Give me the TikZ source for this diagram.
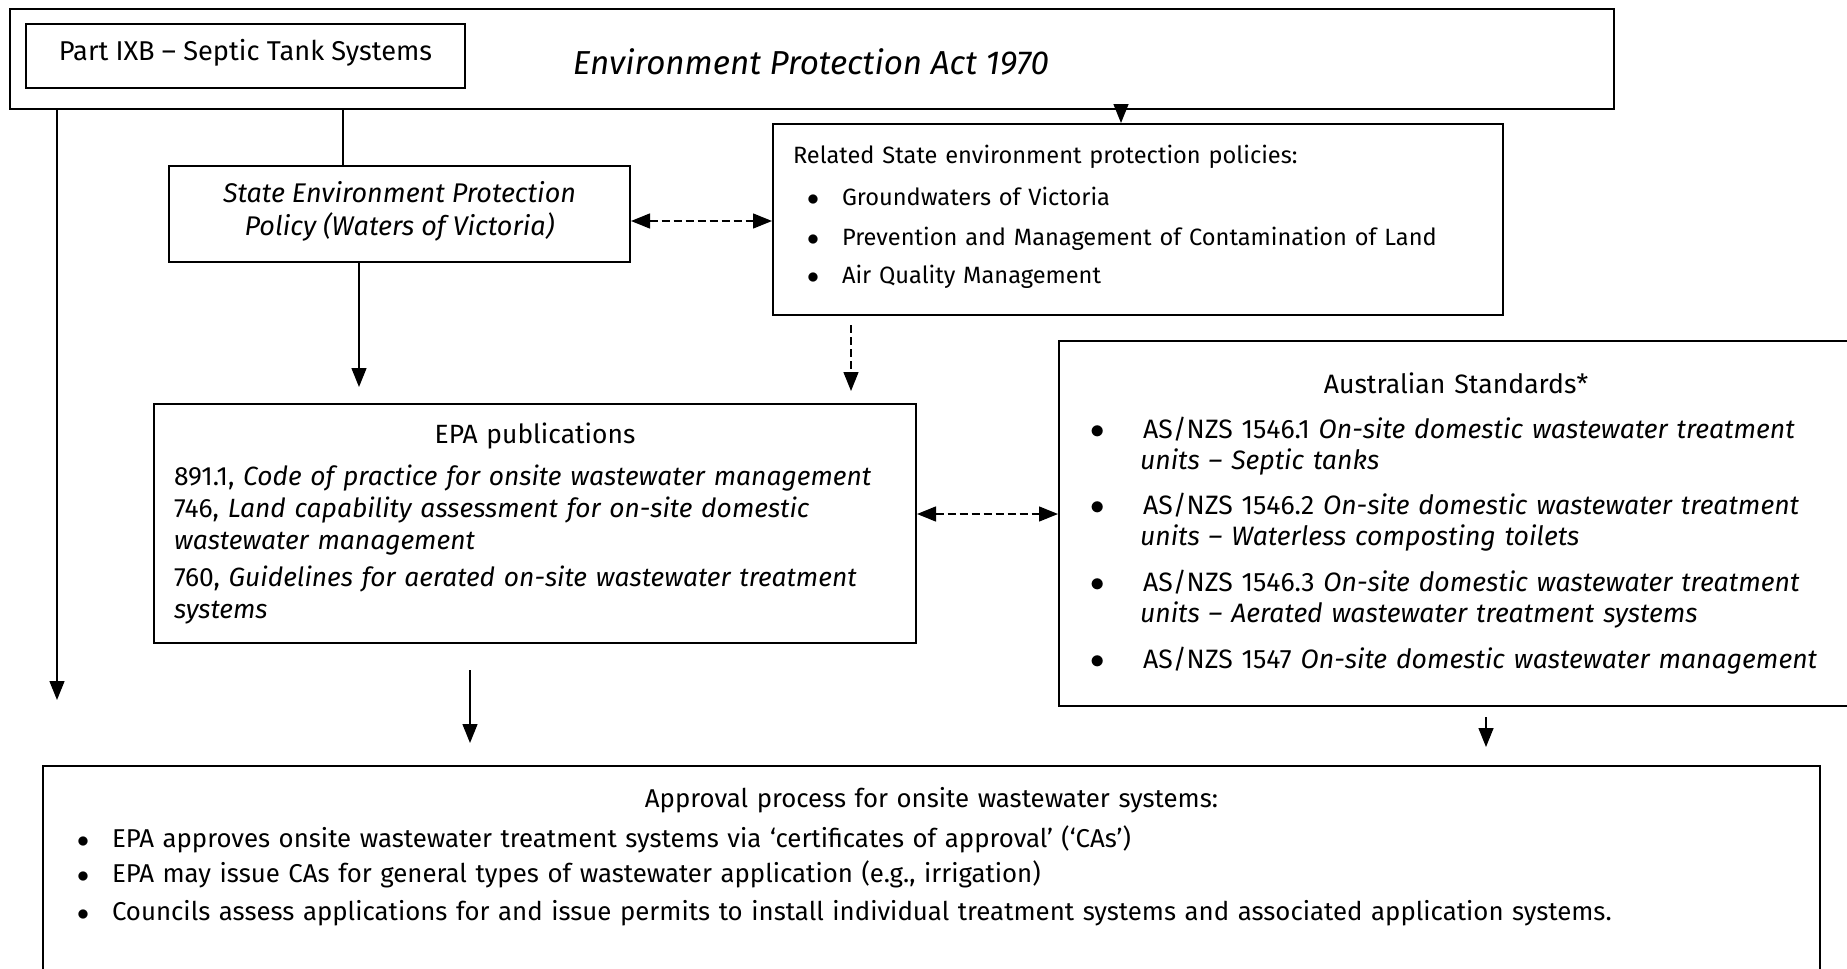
\documentclass[tikz,border=0pt]{standalone}
\usepackage{fontspec}
\setmainfont{Fira Sans}
\usetikzlibrary{positioning,arrows.meta,calc}

% bullet line helpers (related / approval boxes and standards box)
\newcommand{\bitem}[1]{\makebox[24.5pt][l]{\hspace*{7pt}$\bullet$}#1}
\newcommand{\sitem}[1]{\makebox[32pt][l]{\hspace*{5.5pt}$\bullet$}#1}
\newcommand{\scont}[1]{\hspace*{30.5pt}#1}

\begin{document}
\begin{tikzpicture}[
  x=0.5pt, y=-0.5pt,
  font=\fontsize{13}{16}\selectfont,
  box/.style={draw, line width=1pt, anchor=north west, inner sep=0pt},
  txtbox/.style={box, align=left, inner xsep=10pt},
  flowarr/.style={-{Triangle[width=7.5pt,length=9.5pt]}, line width=0.7pt},
  dasharr/.style={{Triangle[width=7.5pt,length=9.5pt]}-{Triangle[width=7.5pt,length=9.5pt]}, line width=0.7pt, dash pattern=on 4pt off 2pt},
  dashone/.style={-{Triangle[width=7.5pt,length=9.5pt]}, line width=0.7pt, dash pattern=on 4pt off 2pt},
  tapline/.style={line width=0.7pt}
]
\useasboundingbox (0,0) rectangle (1847,969);

% ============================================================
% ACT (top band) + Part IXB
% ============================================================
\node[box, minimum width=802pt, minimum height=50pt, font=\fontsize{16.6}{18}\selectfont] (act) at (9,8) {\hspace*{-1pt}\rule{0pt}{16pt}\textit{Environment Protection Act 1970}};
\node[box, minimum width=219.5pt, minimum height=32pt, font=\fontsize{13.6}{16}\selectfont] (partixb) at (25,23) {Part IXB -- Septic Tank Systems\rule[-6pt]{0pt}{0pt}};

% ============================================================
% SEPP + related policies
% ============================================================
\node[box, minimum width=230.5pt, minimum height=48pt, align=center, font=\fontsize{13.5}{16.5}\selectfont] (sepp) at (168,165)
  {\textit{State Environment Protection}\\\textit{Policy (Waters of Victoria)}\rule[-6pt]{0pt}{0pt}};
\node[txtbox, minimum width=365pt, minimum height=95.5pt, text width=345pt, font=\fontsize{11.8}{16}\selectfont] (related) at (772,123)
  {Related State environment protection policies:\\[5pt]
   \bitem{Groundwaters of Victoria}\\[4pt]
   \bitem{Prevention and Management of Contamination of Land}\\[3pt]
   \bitem{Air Quality Management}\rule[-5.5pt]{0pt}{0pt}};

% ============================================================
% EPA publications + Australian Standards
% ============================================================
\node[txtbox, minimum width=381pt, minimum height=119.5pt, text width=361pt, font=\fontsize{13.2}{16}\selectfont] (epapub) at (153,403)
  {\makebox[\hsize]{EPA publications}\\[5pt]
   891.1, \textit{Code of practice for onsite wastewater management}\\
   746, \textit{Land capability assessment for on-site domestic}\\
   \textit{wastewater management}\\[2.5pt]
   760, \textit{Guidelines for aerated on-site wastewater treatment}\\
   \textit{systems}};
\node[txtbox, minimum width=397pt, minimum height=182.5pt, text width=377pt, font=\fontsize{13.3}{15.5}\selectfont] (ausstd) at (1058,340)
  {\makebox[\hsize]{Australian Standards*}\\[7pt]
   \sitem{AS/NZS 1546.1 \textit{On-site domestic wastewater treatment}}\\
   \scont{\textit{units -- Septic tanks}}\\[7pt]
   \sitem{AS/NZS 1546.2 \textit{On-site domestic wastewater treatment}}\\
   \scont{\textit{units -- Waterless composting toilets}}\\[7.5pt]
   \sitem{AS/NZS 1546.3 \textit{On-site domestic wastewater treatment}}\\
   \scont{\textit{units -- Aerated wastewater treatment systems}}\\[7.5pt]
   \sitem{AS/NZS 1547 \textit{On-site domestic wastewater management}}};

% ============================================================
% Approval process (runs off the bottom)
% ============================================================
\node[txtbox, minimum width=888.5pt, text width=868.5pt, inner ysep=10.5pt, font=\fontsize{12.9}{16}\selectfont] (approval) at (42,765)
  {\makebox[\hsize]{Approval process for onsite wastewater systems:}\\[4pt]
   \bitem{EPA approves onsite wastewater treatment systems via ‘certificates of approval’ (‘CAs’)}\\[1.5pt]
   \bitem{EPA may issue CAs for general types of wastewater application (e.g., irrigation)}\\[3pt]
   \bitem{Councils assess applications for and issue permits to install individual treatment systems and associated application systems.}\rule[-80pt]{0pt}{0pt}};

% ============================================================
% connectors
% ============================================================
\coordinate (leftEnd) at (57,700);
\coordinate (seppTap) at (343,0);
\coordinate (relTap) at (1121,0);
\coordinate (seppEnd) at (359,387);
\coordinate (polY) at (0,221);
\coordinate (relEnd) at (851,391);
\coordinate (pubY) at (0,514);
\coordinate (pubEnd) at (470,743);
\coordinate (stdEnd) at (1486,747);

\draw[flowarr] (act.south -| leftEnd) -- (leftEnd);
\draw[tapline] (act.south -| seppTap) -- (sepp.north -| seppTap);
\draw[flowarr] (act.south -| relTap) -- (related.north -| relTap);
\draw[flowarr] (sepp.south -| seppEnd) -- (seppEnd);
\draw[dasharr] (sepp.east |- polY) -- (related.west |- polY);
\draw[dashone] ($(related.south -| relEnd)+(0,9)$) -- (relEnd);
\draw[dasharr] (epapub.east |- pubY) -- (ausstd.west |- pubY);
\draw[flowarr] ($(epapub.south -| pubEnd)+(0,26)$) -- (pubEnd);
\draw[flowarr] ($(ausstd.south -| stdEnd)+(0,10)$) -- (stdEnd);

\end{tikzpicture}
\end{document}
